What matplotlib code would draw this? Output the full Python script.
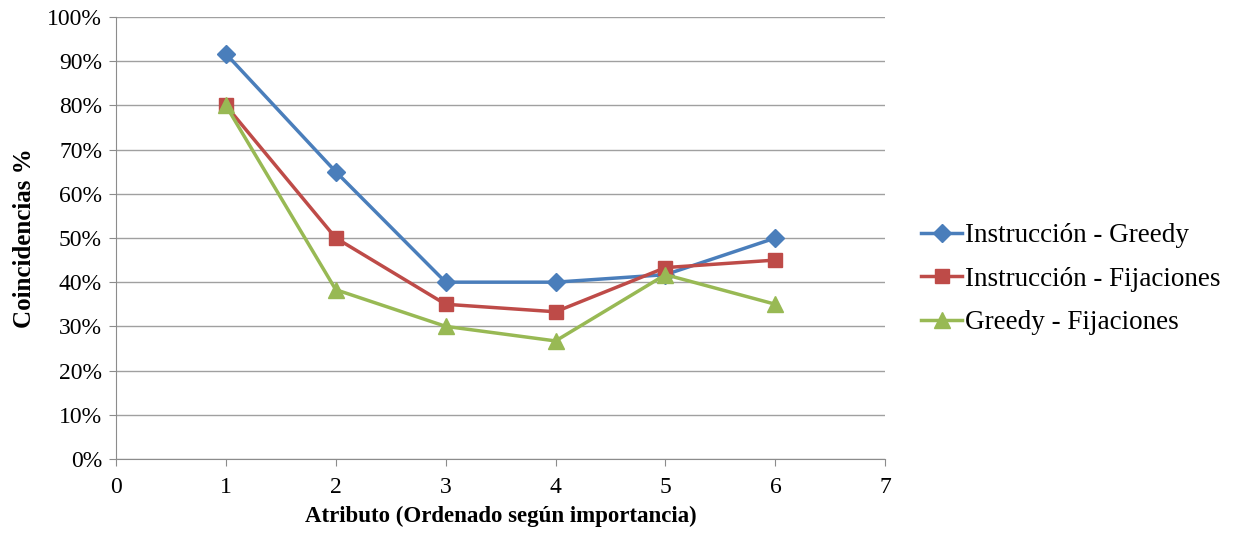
import matplotlib
matplotlib.use("Agg")
import matplotlib.pyplot as plt
from matplotlib.ticker import FuncFormatter

plt.rcParams['font.family'] = ['Liberation Serif', 'DejaVu Serif']

# Coincidence rates per attribute position
atributos = [1, 2, 3, 4, 5, 6]
instr_greedy = [0.917, 0.65, 0.40, 0.40, 0.417, 0.50]
instr_fijaciones = [0.80, 0.50, 0.35, 0.333, 0.433, 0.45]
greedy_fijaciones = [0.80, 0.383, 0.30, 0.267, 0.417, 0.35]

fig = plt.figure(figsize=(12.33, 5.33), dpi=100)
ax = fig.add_axes([0.094, 0.139, 0.624, 0.829])

ax.plot(atributos, instr_greedy, color='#4a7ebb', lw=2.5, marker='D', ms=9.5,
        label='Instrucción - Greedy')
ax.plot(atributos, instr_fijaciones, color='#be4b48', lw=2.5, marker='s', ms=10,
        label='Instrucción - Fijaciones')
ax.plot(atributos, greedy_fijaciones, color='#98b954', lw=2.5, marker='^', ms=12,
        label='Greedy - Fijaciones')

ax.set_xlim(0, 7)
ax.set_ylim(0, 1)
ax.set_xticks(range(0, 8))
ax.set_yticks([i / 10 for i in range(11)])
ax.yaxis.set_major_formatter(FuncFormatter(lambda v, p: f'{v * 100:.0f}%'))
ax.grid(axis='y', color='#a0a0a0', lw=1)
ax.set_axisbelow(True)

for s in ['top', 'right']:
    ax.spines[s].set_visible(False)
for s in ['left', 'bottom']:
    ax.spines[s].set_color('#8c8c8c')
ax.tick_params(axis='both', labelsize=17, color='#8c8c8c', length=5)
ax.tick_params(axis='y', pad=5)
ax.tick_params(axis='x', pad=8)

ax.set_xlabel('Atributo (Ordenado según importancia)', fontsize=16.5,
              fontweight='bold', labelpad=6)
ax.set_ylabel('Coincidencias %', fontsize=18, fontweight='bold', labelpad=8)

ax.legend(loc='center left', bbox_to_anchor=(1.047, 0.407), frameon=False,
          borderaxespad=0, borderpad=0, fontsize=19.5, handlelength=1.5,
          handletextpad=0.1, labelspacing=0.68)

fig.savefig('out.png', dpi=100)
